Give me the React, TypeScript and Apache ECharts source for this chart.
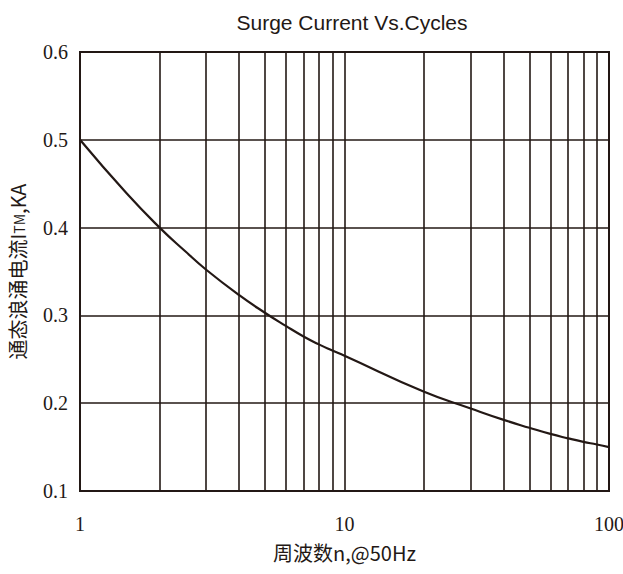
import React, { useEffect, useRef } from "react";
import * as echarts from "echarts";

const cycles = [1, 1.5, 2, 2.5, 3, 4, 5, 6, 7, 8, 9, 10, 20, 30, 40, 50, 60, 70, 80, 90, 100];
const surgeKA = [0.5, 0.439, 0.4, 0.373, 0.352, 0.323, 0.303, 0.288, 0.276, 0.267, 0.26, 0.254, 0.213, 0.194, 0.181, 0.172, 0.165, 0.16, 0.156, 0.153, 0.15];
const minorXLines = [2, 3, 4, 5, 6, 7, 8, 9, 20, 30, 40, 50, 60, 70, 80, 90];
const titleText = "Surge Current Vs.Cycles";
const xName = "周波数n,@50Hz";

const INK = "#231815";
const SERIF = "'Liberation Serif', 'Times New Roman', 'DejaVu Serif', serif";
const SANS = "'Liberation Sans', Arial, sans-serif";
const CJK = "'Noto Sans CJK SC', sans-serif";

export default function App() {
  const ref = useRef<HTMLDivElement>(null);
  useEffect(() => {
    if (!ref.current) return;
    const chart = echarts.init(ref.current, undefined, { renderer: "svg" });
    chart.setOption({
      animation: false,
      backgroundColor: "#ffffff",
      title: {
        text: titleText,
        left: 347,
        textAlign: "center",
        top: 7,
        textStyle: { fontFamily: SANS, fontSize: 21, fontWeight: "normal", color: INK },
      },
      grid: {
        left: 80,
        right: 14,
        top: 52,
        bottom: 83,
        outerBoundsMode: "none",
        containLabel: false,
        show: true,
        borderColor: INK,
        borderWidth: 2,
        backgroundColor: "transparent",
      },
      xAxis: {
        type: "log",
        logBase: 10,
        min: 1,
        max: 100,
        name: xName,
        nameLocation: "middle",
        nameGap: 51,
        nameTextStyle: { fontFamily: CJK, fontSize: 20, color: INK },
        axisLine: { show: true, lineStyle: { color: INK, width: 2 } },
        axisTick: { show: false },
        axisLabel: { fontFamily: SERIF, fontSize: 20, color: INK, margin: 23 },
        splitLine: { show: true, lineStyle: { color: INK, width: 1.6 } },
      },
      yAxis: {
        type: "value",
        min: 0.1,
        max: 0.6,
        interval: 0.1,
        name: "通态浪涌电流I{s|TM},KA",
        nameLocation: "middle",
        nameGap: 53,
        nameTextStyle: {
          fontFamily: CJK,
          fontSize: 20,
          color: INK,
          rich: { s: { fontFamily: CJK, fontSize: 14, color: INK, padding: [4, 0, 0, 0] } },
        },
        axisLine: { show: true, lineStyle: { color: INK, width: 2 } },
        axisTick: { show: false },
        axisLabel: {
          fontFamily: SERIF,
          fontSize: 20,
          color: INK,
          margin: 12,
          formatter: (v: number) => v.toFixed(1),
        },
        splitLine: { show: true, lineStyle: { color: INK, width: 1.6 } },
      },
      series: [
        {
          type: "line",
          data: cycles.map((c, i) => [c, surgeKA[i]]),
          smooth: 0.5,
          symbol: "none",
          lineStyle: { color: INK, width: 2.2 },
          markLine: {
            silent: true,
            symbol: "none",
            label: { show: false },
            lineStyle: { color: INK, width: 1.6, type: "solid" },
            data: minorXLines.map((v) => ({ xAxis: v })),
          },
        },
      ],
    });
    return () => chart.dispose();
  }, []);
  return <div ref={ref} style={{ width: 623, height: 574, position: "absolute", left: 0, top: 0 }} />;
}
